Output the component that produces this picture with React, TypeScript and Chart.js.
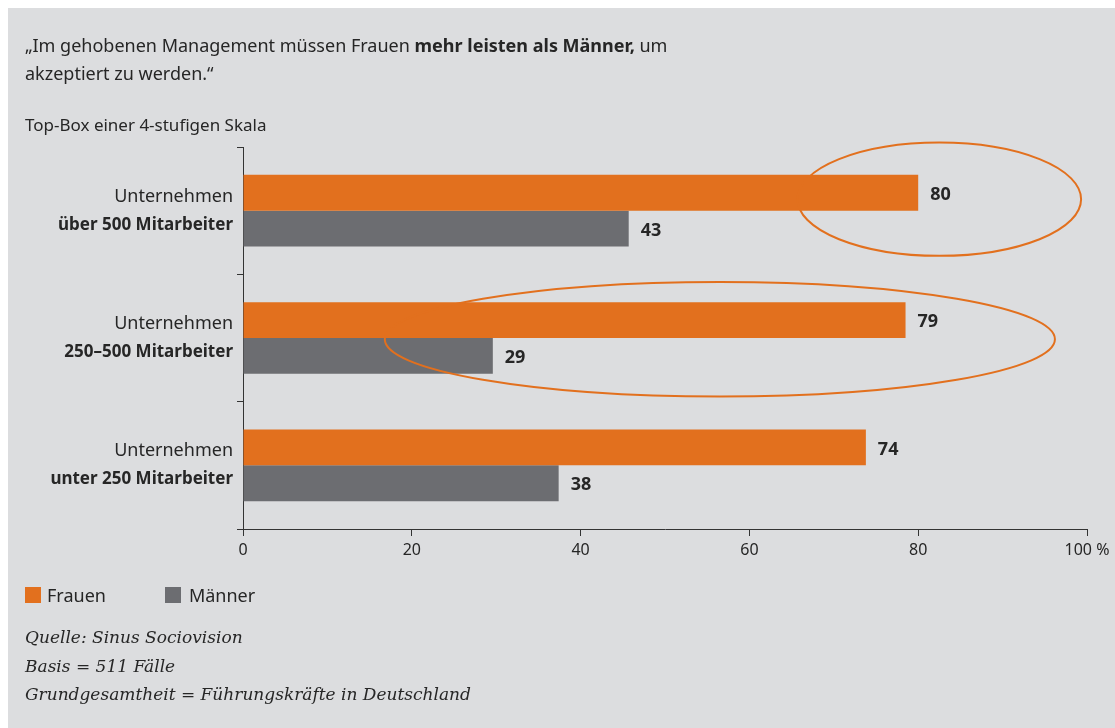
import React, { useEffect, useRef } from "react";
import { Chart, registerables } from "chart.js";

Chart.register(...registerables);

const categoryLine1 = ["Unternehmen", "Unternehmen", "Unternehmen"];
const categoryLine2 = ["über 500 Mitarbeiter", "250–500 Mitarbeiter", "unter 250 Mitarbeiter"];
const frauenValues = [80, 78.5, 73.8];
const maennerValues = [45.7, 29.6, 37.4];
const frauenLabels = ["80", "79", "74"];
const maennerLabels = ["43", "29", "38"];
const xTickValues = [0, 20, 40, 60, 80, 100];
const seriesNames = ["Frauen", "Männer"];

// highlight ellipses: category index, center value, x-radius (in value units)
const highlightCategory = [0, 1];
const highlightCenterValue = [82.5, 56.5];
const highlightRadiusValue = [16.8, 39.7];

const ORANGE = "#e2701e";
const GRAY = "#6c6d71";
const TEXT = "#262626";
const BG = "#dcdddf";
const FONT = "'Noto Sans', sans-serif";

const overlayPlugin = {
  id: "overlay",
  afterDatasetsDraw(chart: any) {
    const { ctx, chartArea } = chart;
    const yScale = chart.scales.y;
    const xScale = chart.scales.x;
    const band = (chartArea.bottom - chartArea.top) / categoryLine1.length;
    ctx.save();
    // value labels
    ctx.fillStyle = TEXT;
    ctx.font = `bold 18px ${FONT}`;
    ctx.textAlign = "left";
    ctx.textBaseline = "middle";
    const labelSets = [frauenLabels, maennerLabels];
    chart.data.datasets.forEach((_: any, di: number) => {
      const meta = chart.getDatasetMeta(di);
      meta.data.forEach((el: any, i: number) => {
        ctx.fillText(labelSets[di][i], el.x + 12, el.y + 2);
      });
    });
    // ellipses
    ctx.strokeStyle = ORANGE;
    ctx.lineWidth = 2;
    highlightCategory.forEach((ci, k) => {
      const cx = xScale.getPixelForValue(highlightCenterValue[k]);
      const rx = xScale.getPixelForValue(highlightRadiusValue[k]) - xScale.getPixelForValue(0);
      const cy = yScale.getPixelForValue(ci) + (k === 0 ? -0.09 * band : 0.01 * band);
      const ry = (k === 0 ? 0.445 : 0.45) * band;
      ctx.beginPath();
      ctx.ellipse(cx, cy, rx, ry, 0, 0, Math.PI * 2);
      ctx.stroke();
    });
    // category labels
    ctx.textAlign = "right";
    categoryLine1.forEach((l1, i) => {
      const y = yScale.getPixelForValue(i);
      ctx.font = `18px ${FONT}`;
      ctx.fillText(l1, chartArea.left - 10, y - 14);
      ctx.font = `bold 17px ${FONT}`;
      ctx.fillText(categoryLine2[i], chartArea.left - 10, y + 14);
    });
    ctx.restore();
  },
};

function ChartCanvas() {
  const ref = useRef<HTMLCanvasElement | null>(null);
  useEffect(() => {
    if (!ref.current) return;
    const chart = new Chart(ref.current, {
      type: "bar",
      data: {
        labels: categoryLine2,
        datasets: [
          { label: seriesNames[0], data: frauenValues, backgroundColor: ORANGE, barPercentage: 1, categoryPercentage: 0.5625 },
          { label: seriesNames[1], data: maennerValues, backgroundColor: GRAY, barPercentage: 1, categoryPercentage: 0.5625 },
        ],
      },
      options: {
        responsive: false,
        animation: false,
        indexAxis: "y",
        layout: { padding: { left: 0, right: 28, top: 139, bottom: 159 } },
        plugins: { legend: { display: false }, tooltip: { enabled: false } },
        scales: {
          x: {
            min: 0,
            max: 100,
            afterFit(scale: any) { scale.height = 40; },
            afterBuildTicks(scale: any) { scale.ticks = xTickValues.map((v) => ({ value: v })); },
            ticks: {
              color: TEXT,
              font: { family: FONT, size: 16 },
              padding: 5,
              callback: (v: any) => (Number(v) === 100 ? "100 %" : String(v)),
            },
            grid: { drawOnChartArea: false, drawTicks: true, tickLength: 7, color: "#333", lineWidth: 1 },
            border: { display: true, color: "#333", width: 1 },
          },
          y: {
            afterFit(scale: any) { scale.width = 235; },
            ticks: { display: true, callback: () => "" },
            grid: { drawOnChartArea: false, drawTicks: true, tickLength: 6, offset: true, color: "#333", lineWidth: 1 },
            border: { display: true, color: "#333", width: 1 },
          },
        },
      },
      plugins: [overlayPlugin],
    });
    return () => chart.destroy();
  }, []);
  return <canvas ref={ref} width={1107} height={720} style={{ position: "absolute", left: 0, top: 0, width: 1107, height: 720 }} />;
}

export default function App() {
  const txt: React.CSSProperties = { position: "absolute", left: 17, color: TEXT, fontFamily: FONT, fontSize: 17, lineHeight: "28px", whiteSpace: "nowrap" };
  const foot: React.CSSProperties = { fontFamily: "'DejaVu Serif', serif", fontStyle: "italic", fontSize: 17, lineHeight: "28.5px", color: TEXT };
  return (
    <div style={{ position: "fixed", left: 8, top: 8, right: 0, bottom: 0, background: BG, overflow: "hidden" }}>
      <ChartCanvas />
      <div style={{ ...txt, top: 23, fontSize: 18 }}>
        „Im gehobenen Management müssen Frauen <b>mehr leisten als Männer,</b> um<br />akzeptiert zu werden.“
      </div>
      <div style={{ ...txt, top: 103 }}>Top-Box einer 4-stufigen Skala</div>
      <div style={{ ...txt, top: 576, fontSize: 18, lineHeight: "22px", display: "flex", alignItems: "center" }}>
        <span style={{ display: "inline-block", width: 16, height: 16, background: ORANGE, marginRight: 6 }} />
        <span style={{ marginRight: 59 }}>{seriesNames[0]}</span>
        <span style={{ display: "inline-block", width: 16, height: 16, background: GRAY, marginRight: 8 }} />
        <span>{seriesNames[1]}</span>
      </div>
      <div style={{ ...txt, ...foot, top: 615 }}>
        Quelle: Sinus Sociovision<br />Basis = 511 Fälle<br />Grundgesamtheit = Führungskräfte in Deutschland
      </div>
    </div>
  );
}
